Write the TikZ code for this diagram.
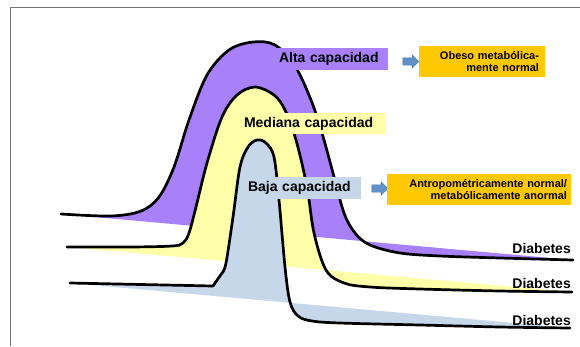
\documentclass[tikz,border=0pt]{standalone}
\usepackage{fontspec}
\setmainfont{Liberation Sans}
\usetikzlibrary{shapes.arrows}

\definecolor{altacol}{RGB}{168,128,250}
\definecolor{medcol}{RGB}{255,255,170}
\definecolor{bajacol}{RGB}{198,215,234}
\definecolor{naranja}{RGB}{255,200,0}
\definecolor{flecha}{RGB}{96,145,200}

\begin{document}
\begin{tikzpicture}[x=1pt,y=-1pt,
    curva/.style={line width=2.7pt,line join=round,line cap=round},
    etiqueta/.style={inner ysep=0pt,inner xsep=2pt,align=left,
        font=\fontsize{14}{16}\selectfont\bfseries},
    caja/.style={fill=naranja,inner ysep=0pt,align=right,
        font=\fontsize{11}{12.6}\selectfont\bfseries},
    flechita/.style={single arrow,fill=flecha,draw=flecha!80!black,
        line width=0.4pt,minimum height=16pt,minimum width=13pt,
        single arrow head extend=3pt,inner xsep=0pt,inner ysep=3.5pt},
    diab/.style={anchor=east,inner sep=0pt,font=\fontsize{14}{16}\selectfont\bfseries}]

% Page size and frame.
\useasboundingbox (0,0) rectangle (580,346);
\draw[line width=1pt,black!55] (10,346) -- (10,7) -- (580,7);

% Alta capacidad curve (purple).
% fill closes it with a straight line, the stroke does not.
\draw[curva,fill=altacol]
    plot[smooth,tension=0.55] coordinates {
    (61,214) (111,216) (141,211) (159,197) (174,167) (189,120)
    (207,75) (229,50) (253,42) (275,45) (295,66) (311,100)
    (322,133) (333,173) (344,213) (355,233) (370,245) (400,253)
    (440,256) (500,258) (573,260)};

% Mediana capacidad curve (yellow).
\draw[curva,fill=medcol]
    plot[smooth,tension=0.55] coordinates {
    (67,247) (130,247) (172,246) (183,243) (189,233) (196,207)
    (207,163) (222,117) (237,95) (255,87) (274,95) (285,110)
    (296,140) (307,187) (314,233) (326,270) (344,283) (370,287)
    (420,289) (500,291) (572,292)};

% Baja capacidad curve (blue), with the kink at its foot.
\draw[curva,fill=bajacol]
    (70,283) -- (213,286) -- (222,273)
    -- plot[smooth,tension=0.55] coordinates {
    (222,273) (226,263) (233,217) (240,167) (248,147) (257,140)
    (266,143) (274,157) (279,200) (285,267) (290,302) (298,316)
    (312,321) (340,323) (420,325) (500,327) (570,328)};

% Capacity labels.
\node[etiqueta,fill=altacol,text width=107pt,minimum height=22pt]
    (alta) at (332.5,59) {Alta capacidad};
\node[etiqueta,fill=medcol,text width=139pt,minimum height=21pt]
    (mediana) at (313.5,123.5) {Mediana capacidad};
\node[etiqueta,fill=bajacol,text width=111pt,minimum height=22pt]
    (baja) at (303.5,188) {Baja capacidad};

% Arrows to the outcome boxes.
\node[flechita] (altaflecha) at (409,61.5) {};
\node[flechita] (bajaflecha) at (378,188.5) {};

% Outcome boxes.
\node[caja,text width=114pt,inner xsep=6pt,minimum height=31pt]
    (obeso) at (482,61.5) {Obeso metab\'olica-\\mente normal};
\node[caja,text width=176pt,inner xsep=4pt,minimum height=31pt]
    (antropo) at (479,189.5)
    {Antropom\'etricamente normal/\\metab\'olicamente anormal};

% Diabetes labels at the curve ends.
\foreach \y/\n in {248/1,283/2,320/3} {
    \node[diab] (diab\n) at (571,\y) {Diabetes};
}

\end{tikzpicture}
\end{document}
